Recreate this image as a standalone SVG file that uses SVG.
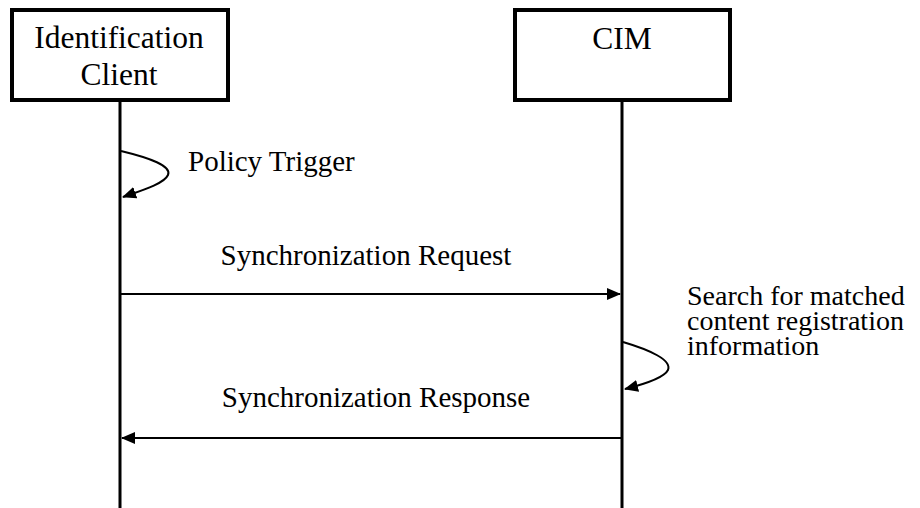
<svg xmlns="http://www.w3.org/2000/svg" width="920" height="508" viewBox="0 0 920 508">
<style>
.box{fill:#fff;stroke:#000;stroke-width:4}
.life{stroke:#000;stroke-width:3;fill:none}
.msg{stroke:#000;stroke-width:2;fill:none}
.hd{font-family:"Liberation Serif","Times New Roman",serif;font-size:31.5px;fill:#000;text-anchor:middle}
.lb{font-family:"Liberation Serif","Times New Roman",serif;font-size:29px;fill:#000}
.nt{font-family:"Liberation Serif","Times New Roman",serif;font-size:28px;fill:#000}
</style>
<defs>
<marker id="ah" markerWidth="14" markerHeight="12" refX="13" refY="6" orient="auto" markerUnits="userSpaceOnUse">
<path d="M0,0 L14,6 L0,12 Z" fill="#000"/>
</marker>
</defs>
<rect width="920" height="508" fill="#fff"/>
<g id="client">
<rect class="box" x="12" y="10" width="216" height="90"/>
<text class="hd" x="119" y="48">Identification</text>
<text class="hd" x="119" y="85">Client</text>
<line class="life" x1="120" y1="102" x2="120" y2="508"/>
</g>
<g id="cim">
<rect class="box" x="515" y="10" width="215" height="90"/>
<text class="hd" x="622" y="49">CIM</text>
<line class="life" x1="622" y1="102" x2="622" y2="508"/>
</g>
<g id="connectors">
<path class="msg" d="M121,151 C150,158 172,166 168,175 C164,184 140,191 123,197" marker-end="url(#ah)"/>
<line class="msg" x1="121" y1="294" x2="620" y2="294" marker-end="url(#ah)"/>
<path class="msg" d="M623,342 C650,350 672,360 668,370 C664,378 645,384 625,389" marker-end="url(#ah)"/>
<line class="msg" x1="621" y1="438" x2="122" y2="438" marker-end="url(#ah)"/>
</g>
<g id="labels">
<text class="lb" x="188" y="171">Policy Trigger</text>
<text class="lb" x="366" y="265" text-anchor="middle">Synchronization Request</text>
<text class="nt" x="687" y="305">Search for matched</text>
<text class="nt" x="687" y="330">content registration</text>
<text class="nt" x="687" y="355">information</text>
<text class="lb" x="376" y="407" text-anchor="middle">Synchronization Response</text>
</g>
</svg>
